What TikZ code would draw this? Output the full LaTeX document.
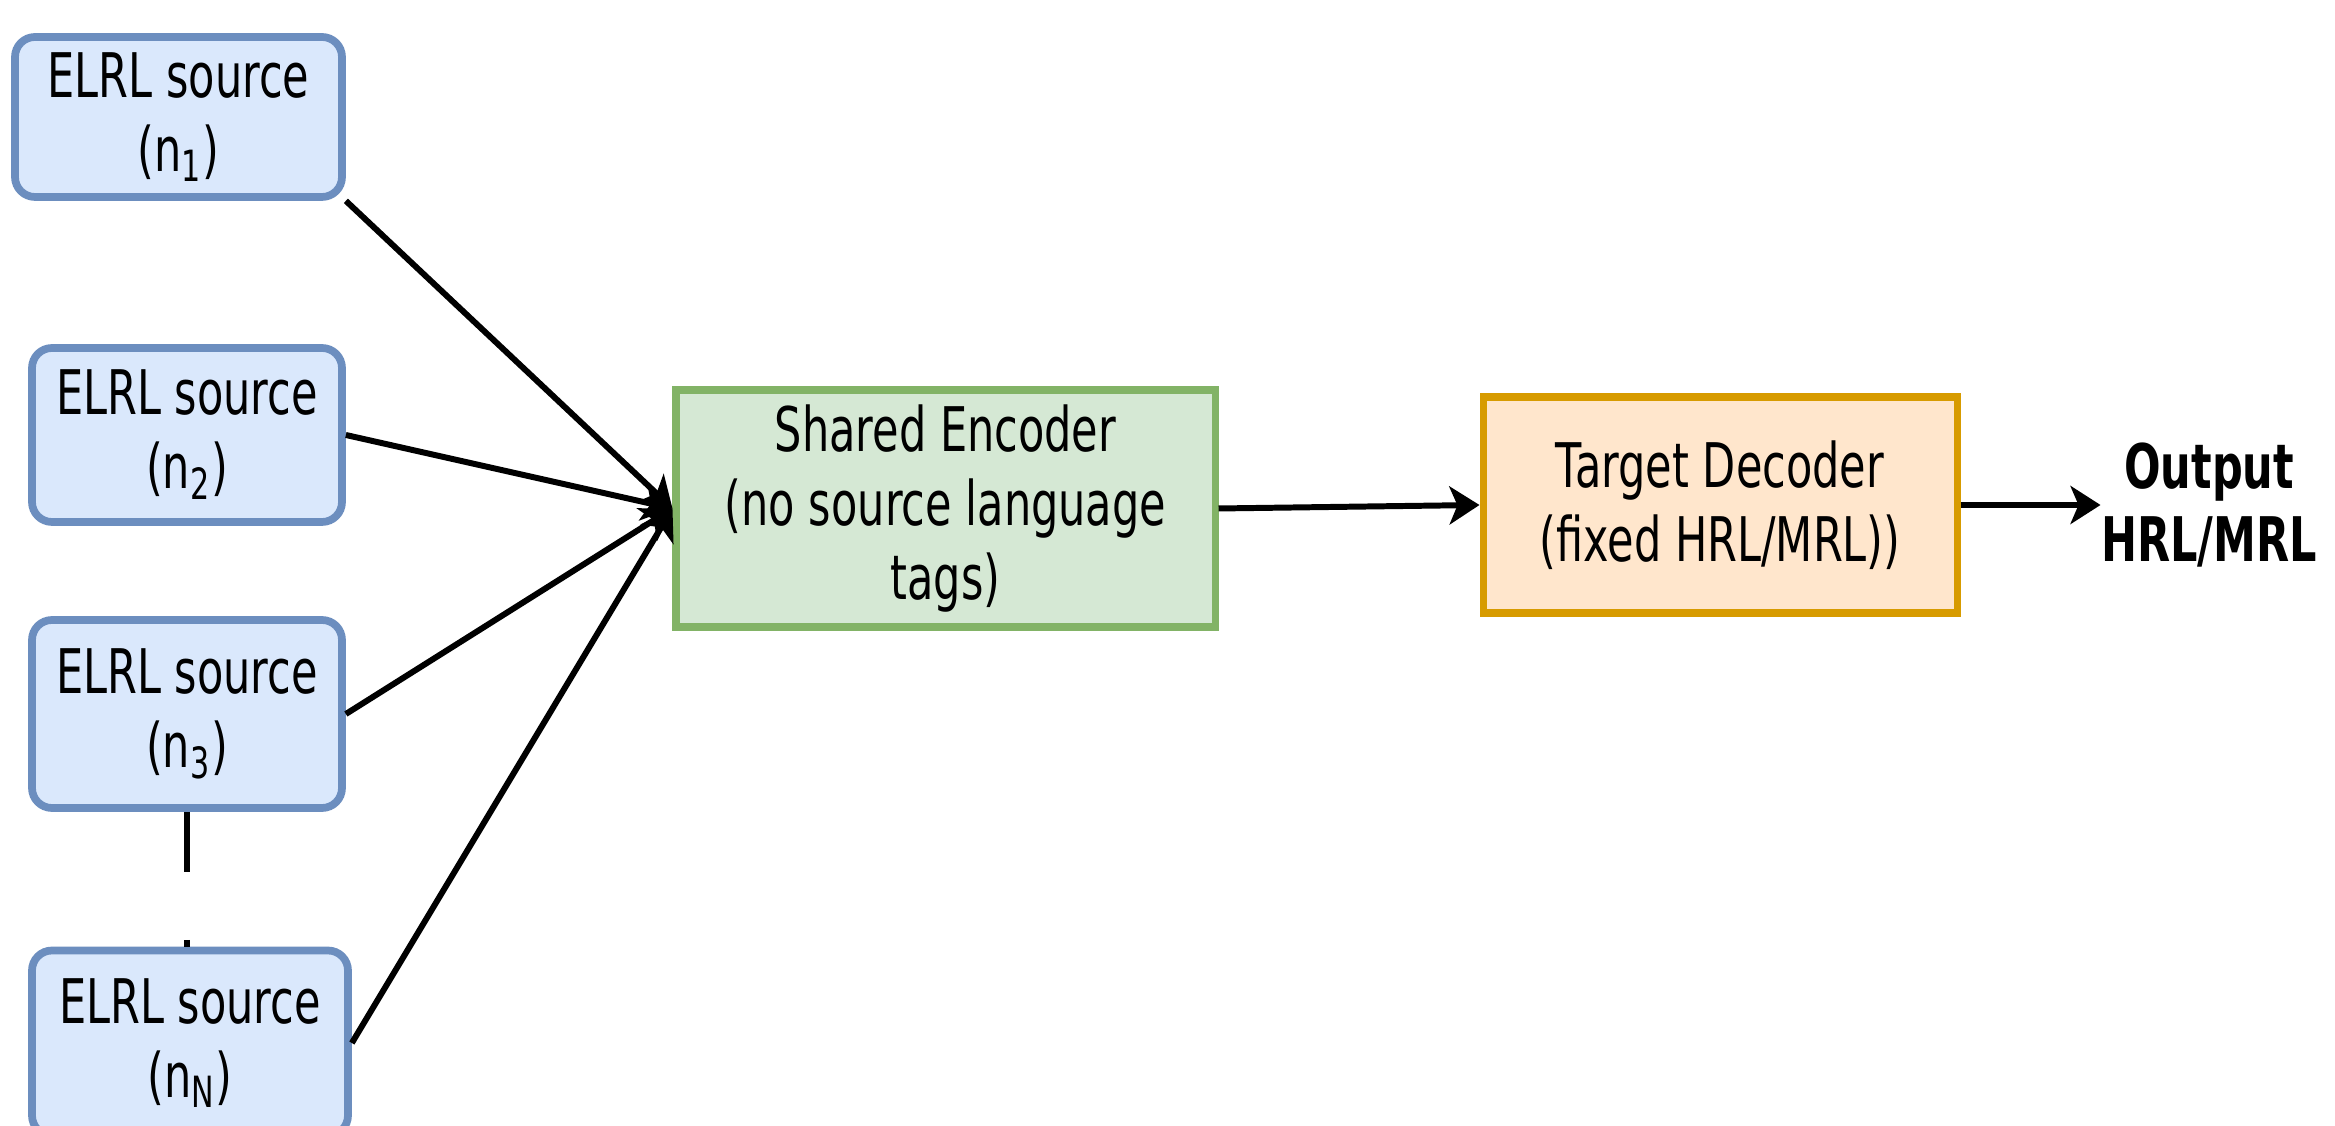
\documentclass[tikz,border=0pt]{standalone}
\usepackage{fontspec}
\setmainfont{DejaVu Sans}[FakeStretch=0.7]
\usepackage{tikz}
\usetikzlibrary{positioning,arrows.meta}
\definecolor{srcfill}{HTML}{DAE8FC}
\definecolor{srcline}{HTML}{6C8EBF}
\definecolor{encfill}{HTML}{D5E8D4}
\definecolor{encline}{HTML}{82B366}
\definecolor{decfill}{HTML}{FFE6CC}
\definecolor{decline}{HTML}{D79B00}
\tikzset{
  source-node/.style={draw=srcline, fill=srcfill, line width=2.2pt, rounded corners=0.2cm,
    minimum width=3.1cm, minimum height=1.75cm, align=center, inner sep=0pt},
  encoder-node/.style={draw=encline, fill=encfill, line width=2pt,
    minimum width=5.39cm, minimum height=2.37cm, align=center, inner sep=0pt},
  decoder-node/.style={draw=decline, fill=decfill, line width=2pt,
    minimum width=4.74cm, minimum height=2.16cm, align=center, inner sep=0pt},
  flow-arrow/.style={-{Stealth[length=0.3cm, width=0.38cm, inset=0.08cm]}, line width=1.7pt},
  gap-line/.style={line width=1.7pt, dash pattern=on 0.6cm off 0.68cm},
  output-text/.style={font=\fontsize{17.5}{21}\selectfont\bfseries, align=center, inner sep=0pt}
}

\begin{document}
\begin{tikzpicture}[every node/.append style={font=\fontsize{17.5}{21}\selectfont}]
\useasboundingbox (0,0) rectangle (23.35,11.26);

% ELRL source languages
\node[source-node, minimum width=3.27cm, minimum height=1.6cm] (n1) at (1.785,10.09) {ELRL source\\(n\textsubscript{1})};
\node[source-node, minimum height=1.74cm] (n2) at (1.87,6.91) {ELRL source\\(n\textsubscript{2})};
\node[source-node, minimum height=1.88cm] (n3) at (1.87,4.12) {ELRL source\\(n\textsubscript{3})};
\node[source-node, minimum width=3.16cm, minimum height=1.85cm] (nN) at (1.90,0.83) {ELRL source\\(n\textsubscript{N})};

% Encoder / decoder
\node[encoder-node] (enc) at (9.455,6.175) {Shared Encoder\\(no source language\\tags)};
\node[decoder-node] (dec) at (17.20,6.21) {Target Decoder\\(fixed HRL/MRL))};
\node[output-text, right=1.4cm of dec] (out) {Output\\HRL/MRL};

% Sources into the encoder
\draw[flow-arrow] (n1.south east) -- (enc.west);
\draw[flow-arrow] (n2.east) -- (enc.west);
\draw[flow-arrow] (n3.east) -- (enc.west);
\draw[flow-arrow] (nN.east) -- (enc.west);
\draw[gap-line] (n3.south) -- (n3.south |- nN.north);

% Encoder -> decoder -> output
\draw[flow-arrow] (enc.east) -- (dec.west);
\draw[flow-arrow] (dec.east) -- (out.west);
\end{tikzpicture}
\end{document}
